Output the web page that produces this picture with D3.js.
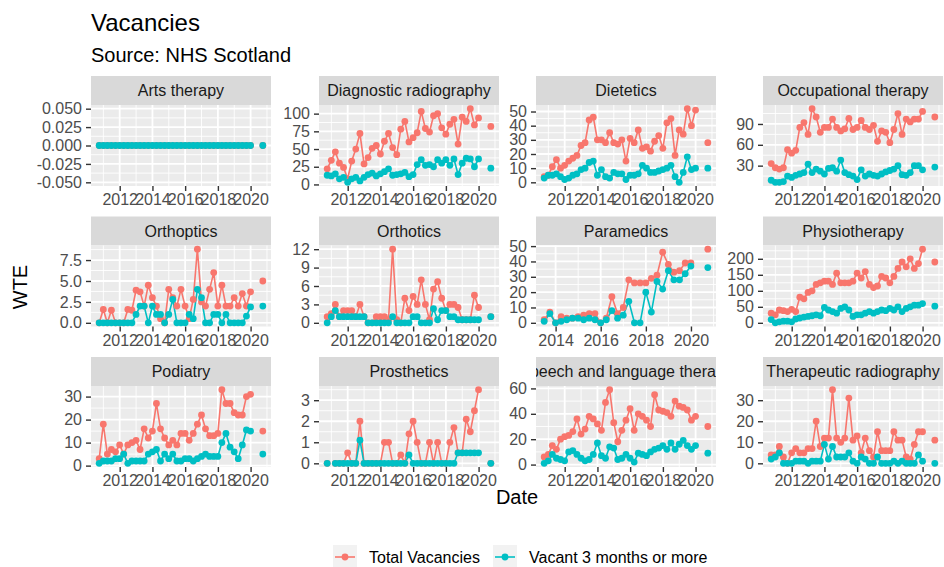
<!DOCTYPE html>
<html>
<head>
<meta charset="utf-8">
<script src="https://cdn.jsdelivr.net/npm/d3@7"></script>
<style>
  body { margin: 0; background: #fff; }
  text { font-family: "Liberation Sans", Arial, sans-serif; }
</style>
</head>
<body>
<div id="chart"></div>
<script>
// quarter-end dates (2020-03 and 2020-06 missing)
const dates = ["2010-09-30","2010-12-31","2011-03-31","2011-06-30","2011-09-30","2011-12-31",
  "2012-03-31","2012-06-30","2012-09-30","2012-12-31","2013-03-31","2013-06-30","2013-09-30","2013-12-31",
  "2014-03-31","2014-06-30","2014-09-30","2014-12-31","2015-03-31","2015-06-30","2015-09-30","2015-12-31",
  "2016-03-31","2016-06-30","2016-09-30","2016-12-31","2017-03-31","2017-06-30","2017-09-30","2017-12-31",
  "2018-03-31","2018-06-30","2018-09-30","2018-12-31","2019-03-31","2019-06-30","2019-09-30","2019-12-31",
  "2020-03-31","2020-06-30","2020-09-30"];

const seriesNames = ["Total Vacancies", "Vacant 3 months or more"];
const seriesColors = ["#F8766D", "#00BFC4"];

const panelNames = ["Arts therapy","Diagnostic radiography","Dietetics","Occupational therapy",
  "Orthoptics","Orthotics","Paramedics","Physiotherapy",
  "Podiatry","Prosthetics","Speech and language therapy","Therapeutic radiography"];

// values per panel: Total / Vacant 3 months or more
const artsTotal  = [0,0,0,0,0,0,0,0,0,0,0,0,0,0,0,0,0,0,0,0,0,0,0,0,0,0,0,0,0,0,0,0,0,0,0,0,0,0,null,null,0];
const artsVacant = [0,0,0,0,0,0,0,0,0,0,0,0,0,0,0,0,0,0,0,0,0,0,0,0,0,0,0,0,0,0,0,0,0,0,0,0,0,0,null,null,0];

const diagTotal  = [22,34,46,30,24,8,33,50,72,29,38,51,55,43,61,72,52,42,78,89,60,66,73,103,79,74,97,100,80,71,85,92,57,95,89,107,84,94,null,null,82];
const diagVacant = [13,12,15,8,10,3,8,10,5,10,14,16,12,15,18,22,13,14,15,17,11,14,28,35,27,28,25,35,30,35,27,36,14,30,37,36,25,36,null,null,23];

const dietTotal  = [4,5,11,16,10,12,15,17,19,26,28,44,46,30,30,28,35,28,27,30,15,31,28,37,24,25,22,29,33,24,42,45,19,37,34,52,40,51,null,null,28];
const dietVacant = [3,5,5,6,4,2,3,5,6,9,10,14,15,5,9,4,3,7,6,6,2,5,5,6,12,10,7,7,8,9,10,12,4,0,7,18,9,10,null,null,10];

const occTotal  = [33,27,25,27,53,48,52,85,92,75,112,100,78,85,85,97,85,80,83,98,82,85,95,85,82,88,65,80,78,63,82,105,75,97,93,97,97,108,null,null,100];
const occVacant = [9,6,6,7,15,13,16,18,20,32,20,25,22,18,26,27,22,38,20,17,15,10,24,15,18,16,15,18,21,23,25,30,17,16,20,30,30,24,null,null,28];

const orthopticsTotal  = [0,1.6,0,1.5,0,0,0,1.6,1.5,3.9,3.7,2,4.5,3,2,0.5,0,4,3,2,4,2,0.5,2.8,8.8,2.5,2,4,6,2,4.5,2,2,3,2,3.5,2,3.7,null,null,5];
const orthopticsVacant = [0,0,0,0,0,0,0,0,0,1,2,2,0,2,1,1,0,1,2.8,0,0,0,1,0.5,4,3,0,0,1,1,0,1,0,0,0,0,0.8,1.9,null,null,2];

const orthoticsTotal  = [1,1.5,3,1,2,2,2,1,3,1,0,0,1,1,1,0.5,12,0.5,0,4,2,4.3,3,7,3,0.5,5.5,6.7,4,2,3,3,2.5,0.5,0.5,0.5,4.5,2.5,null,null,1];
const orthoticsVacant = [0,1,2,1,1,1,1,1,1,1,0,0,0,0,0,0,1,0,0,0,0,1,1,0,0,0,2.3,0.5,2,2,1,1,0.5,0.5,0.5,0.5,0.5,0.5,null,null,1];

// paramedics only from 2013-06-30
const paraStart = 11;
const paraTotal  = [2,7,0,4,3,3,4,5,6,6,0,3,17,6,10,28,26,26,26,29,31,46,38,33,34,39,39,null,null,48];
const paraVacant = [1,6,0,1,2,3,3,2,3,2,0,2,8,3,5,14,0,0,20,7,27,22,34,28,28,32,37,null,null,36];

const physioTotal  = [30,25,40,38,35,42,35,80,75,95,100,120,125,130,130,120,155,125,125,125,130,155,140,160,120,110,115,145,140,125,145,170,190,175,200,170,185,230,null,null,190];
const physioVacant = [10,0,3,5,5,3,12,15,18,20,22,25,22,48,40,35,30,45,50,40,20,25,25,30,35,30,35,40,38,45,40,50,35,45,50,55,55,60,null,null,52];

const podTotal  = [3,18,5,7,6,9,5,9,10,11,7,16,12,15,27,16,12,9,11,9,14,14,11,14,18,22,16,13,13,14,33,27,27,23,22,22,30,31,null,null,15];
const podVacant = [1,2,2,2,3,3,5,1,2,2,2,2,5,6,7,2,5,3,5,2,2,3,3,2,3,4,5,4,4,4,10,14,8,6,3,9,15.5,15,null,null,5];

const prosTotal  = [0,null,0,0,0,0.5,0,0,2,0,0,0,0,0,1,1,0,0,0.4,0,1.4,2,1,0,0,1,0,1,0,0,1,1.7,0.5,0.5,2.1,1.5,2.5,3.5,null,null,0];
const prosVacant = [0,null,0,0,0,0,0,0,1.1,0,0,0,0,0,0,0,0,0,0,0,0.4,0,0,0,0,0,0,0,0,0,0,0,0.5,0.5,0.5,0.5,0.5,0.5,null,null,0];

const sltTotal  = [6,8,15,12,20,22,23,26,36,24,28,38,36,32,27,49,59,33,18,27,35,44,27,40,38,35,30,55,43,42,41,38,50,46,45,43,35,38,null,null,30];
const sltVacant = [1,3,8,5,4,3,10,11,8,5,3,4,8,17,7,5,14,13,4,5,8,5,2,9,8,7,10,12,13,15,12,17,12,16,19,15,12,15,null,null,9];

const therTotal  = [4,4,8,3,0,5,7,5,5,7,7,20,8,12,12,35,12,10,12,31,11,13,5,12,6,3,15,6,6,6,15,11,11,3,2,9,15,15,null,null,11];
const therVacant = [2,3,5,0,0,0,1,1,1,0,1,1,1,9,2,8,3,3,3,5,1,0,3,2,0,0,3,0,0,0,1,0,1,0,0,0,4,1,null,null,0];

// y tick labels per panel
const yTickLabels = [
  ["-0.050","-0.025","0.000","0.025","0.050"],
  ["0","25","50","75","100"],
  ["0","10","20","30","40","50"],
  ["30","60","90"],
  ["0.0","2.5","5.0","7.5"],
  ["0","3","6","9","12"],
  ["0","10","20","30","40","50"],
  ["0","50","100","150","200"],
  ["0","10","20","30"],
  ["0","1","2","3"],
  ["0","20","40","60"],
  ["0","10","20","30"]
];

const panelSeries = [
  [artsTotal, artsVacant, 0], [diagTotal, diagVacant, 0], [dietTotal, dietVacant, 0], [occTotal, occVacant, 0],
  [orthopticsTotal, orthopticsVacant, 0], [orthoticsTotal, orthoticsVacant, 0], [paraTotal, paraVacant, paraStart], [physioTotal, physioVacant, 0],
  [podTotal, podVacant, 0], [prosTotal, prosVacant, 0], [sltTotal, sltVacant, 0], [therTotal, therVacant, 0]
];

// layout
const W = 944, H = 567;
const colLeft = [91, 319, 536, 763];
const rowTop = [76, 216.5, 357];
const stripH = 29, panelW = 180, panelH = 81;
const parseDate = d3.timeParse("%Y-%m-%d");

const svg = d3.select("#chart").append("svg").attr("width", W).attr("height", H);

svg.append("text").attr("x", 91).attr("y", 31).attr("font-size", 24).attr("fill", "#000").text("Vacancies");
svg.append("text").attr("x", 91).attr("y", 62).attr("font-size", 20).attr("fill", "#000").text("Source: NHS Scotland");

panelNames.forEach((name, p) => {
  const [tot, vac, start] = panelSeries[p];
  const pDates = dates.slice(start).map(parseDate);
  const rows = pDates.map((d, i) => ({ date: d, total: tot[i], vacant: vac[i] }));
  const col = p % 4, row = Math.floor(p / 4);
  const g = svg.append("g").attr("transform", `translate(${colLeft[col]},${rowTop[row]})`);

  // strip
  const clipId = "clip" + p;
  g.append("clipPath").attr("id", clipId).append("rect").attr("width", panelW).attr("height", stripH);
  g.append("rect").attr("width", panelW).attr("height", stripH).attr("fill", "#D9D9D9");
  g.append("text").attr("clip-path", `url(#${clipId})`)
    .attr("x", panelW / 2).attr("y", stripH / 2).attr("dy", "0.35em")
    .attr("text-anchor", "middle").attr("font-size", 16).attr("fill", "#1A1A1A").text(name);

  const pg = g.append("g").attr("transform", `translate(0,${stripH})`);
  pg.append("rect").attr("width", panelW).attr("height", panelH).attr("fill", "#EBEBEB");

  // scales
  const defined = rows.filter(r => r.total != null || r.vacant != null);
  const xExt = d3.extent(defined, r => r.date);
  const xPad = (xExt[1] - xExt[0]) * 0.05;
  const x = d3.scaleTime().domain([new Date(+xExt[0] - xPad), new Date(+xExt[1] + xPad)]).range([0, panelW]);

  const vals = rows.flatMap(r => [r.total, r.vacant]).filter(v => v != null);
  let yMin = d3.min(vals), yMax = d3.max(vals);
  if (yMin === yMax) { yMin -= 0.05; yMax += 0.05; }
  const yPad = (yMax - yMin) * 0.05;
  const y = d3.scaleLinear().domain([yMin - yPad, yMax + yPad]).range([panelH, 0]);

  // grid
  const [d0, d1] = x.domain();
  const xMajor = x.ticks(d3.timeYear.every(2)).filter(d => d >= d0 && d <= d1);
  const xMinor = d3.timeYear.range(d0, d1).filter(d => d.getFullYear() % 2 === 1);
  const yVals = yTickLabels[p].map(Number);
  const step = yVals[1] - yVals[0];
  const yMinor = d3.range(yVals.length + 1).map(i => yVals[0] - step / 2 + i * step)
    .filter(v => v >= y.domain()[0] && v <= y.domain()[1]);

  pg.selectAll(".ygm").data(yMinor).join("line")
    .attr("x1", 0).attr("x2", panelW).attr("y1", d => y(d)).attr("y2", d => y(d))
    .attr("stroke", "#fff").attr("stroke-width", 0.9);
  pg.selectAll(".xgm").data(xMinor).join("line")
    .attr("x1", d => x(d)).attr("x2", d => x(d)).attr("y1", 0).attr("y2", panelH)
    .attr("stroke", "#fff").attr("stroke-width", 0.9);
  pg.selectAll(".ygM").data(yVals).join("line")
    .attr("x1", 0).attr("x2", panelW).attr("y1", d => y(d)).attr("y2", d => y(d))
    .attr("stroke", "#fff").attr("stroke-width", 1.8);
  pg.selectAll(".xgM").data(xMajor).join("line")
    .attr("x1", d => x(d)).attr("x2", d => x(d)).attr("y1", 0).attr("y2", panelH)
    .attr("stroke", "#fff").attr("stroke-width", 1.8);

  // axes
  const xAxis = pg.append("g").attr("transform", `translate(0,${panelH})`)
    .call(d3.axisBottom(x).tickValues(xMajor).tickFormat(d3.timeFormat("%Y")).tickSize(5).tickPadding(3));
  const yAxis = pg.append("g")
    .call(d3.axisLeft(y).tickValues(yVals).tickFormat((d, i) => yTickLabels[p][i]).tickSize(5).tickPadding(4));
  [xAxis, yAxis].forEach(a => {
    a.select(".domain").remove();
    a.selectAll("line").attr("stroke", "#333333").attr("stroke-width", 1.4);
    a.selectAll("text").attr("font-size", 16).attr("fill", "#4D4D4D")
      .attr("font-family", '"Liberation Sans", Arial, sans-serif');
  });

  // lines then points
  const keys = ["total", "vacant"];
  keys.forEach((k, s) => {
    const line = d3.line().defined(r => r[k] != null).x(r => x(r.date)).y(r => y(r[k]));
    pg.append("path").datum(rows).attr("d", line)
      .attr("fill", "none").attr("stroke", seriesColors[s]).attr("stroke-width", 1.6);
  });
  keys.forEach((k, s) => {
    pg.append("g").selectAll("circle").data(rows.filter(r => r[k] != null)).join("circle")
      .attr("cx", r => x(r.date)).attr("cy", r => y(r[k])).attr("r", 3.4)
      .attr("fill", seriesColors[s]);
  });
});

// axis titles
svg.append("text").attr("transform", "translate(27,287) rotate(-90)")
  .attr("text-anchor", "middle").attr("font-size", 20).attr("fill", "#000").text("WTE");
svg.append("text").attr("x", 517).attr("y", 504)
  .attr("text-anchor", "middle").attr("font-size", 20).attr("fill", "#000").text("Date");

// legend
const legendX = [333, 493];
const legend = svg.append("g").attr("transform", "translate(0,545)");
seriesNames.forEach((n, s) => {
  const lg = legend.append("g").attr("transform", `translate(${legendX[s]},0)`);
  lg.append("rect").attr("width", 24).attr("height", 24).attr("fill", "#F2F2F2");
  lg.append("line").attr("x1", 2).attr("x2", 22).attr("y1", 12).attr("y2", 12)
    .attr("stroke", seriesColors[s]).attr("stroke-width", 1.6);
  lg.append("circle").attr("cx", 12).attr("cy", 12).attr("r", 3.4).attr("fill", seriesColors[s]);
  lg.append("text").attr("x", 36).attr("y", 12).attr("dy", "0.35em")
    .attr("font-size", 16).attr("fill", "#000").text(n);
});
</script>
</body>
</html>
